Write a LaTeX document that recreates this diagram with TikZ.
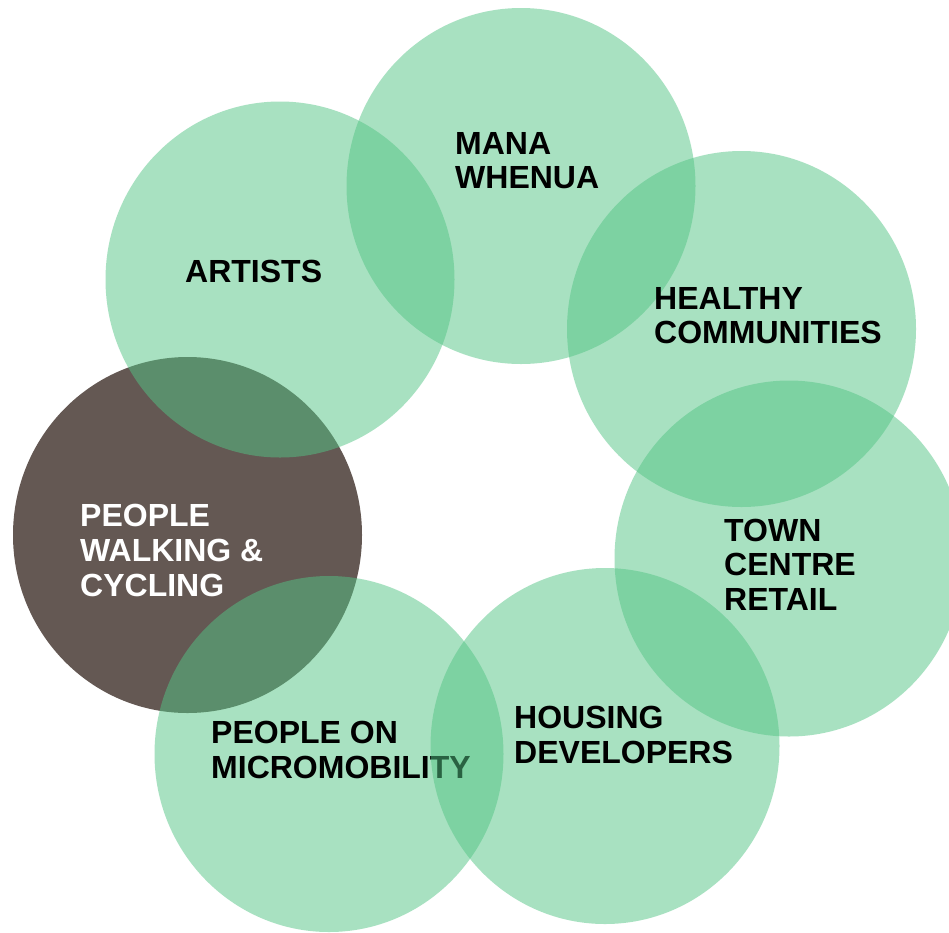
\documentclass[tikz,border=0pt]{standalone}
\usepackage{fontspec}
\setmainfont{Liberation Sans}
\definecolor{bubble}{RGB}{83,197,133}
\definecolor{focus}{RGB}{100,88,83}
\tikzset{
  x=1pt,y=-1pt,
  bubble/.style={fill=bubble,fill opacity=0.5,draw=none},
  focusbubble/.style={fill=focus,draw=none},
  lbl/.style={anchor=west,align=left,font=\fontsize{32pt}{34.8pt}\selectfont\bfseries,inner sep=0pt,text=black,text opacity=1},
}
\begin{document}
\begin{tikzpicture}
\useasboundingbox (0,0) rectangle (949,932);
\clip (0,0) rectangle (949,932);
\fill[white] (0,0) rectangle (949,932);
\fill[focusbubble] (187.5,535) ellipse [x radius=174.5,y radius=178];
\fill[bubble] (329,754) ellipse [x radius=174.5,y radius=178];
\node[lbl] (micro) at (211,749.7) {PEOPLE ON\\MICROMOBILITY};
\fill[bubble] (605,746) ellipse [x radius=174.5,y radius=178];
\fill[bubble] (789,558.5) ellipse [x radius=174.5,y radius=178];
\fill[bubble] (741.5,329) ellipse [x radius=174.5,y radius=178];
\fill[bubble] (521,186) ellipse [x radius=174.5,y radius=178];
\fill[bubble] (280,279.5) ellipse [x radius=174.5,y radius=178];
\node[lbl,text=white] (walk) at (80,550.3) {PEOPLE\\WALKING \&\\CYCLING};
\node[lbl] (housing) at (514,734.7) {HOUSING\\DEVELOPERS};
\node[lbl] (town) at (724,564.7) {TOWN\\CENTRE\\RETAIL};
\node[lbl] (healthy) at (654,315.7) {HEALTHY\\COMMUNITIES};
\node[lbl] (mana) at (455,160.7) {MANA\\WHENUA};
\node[lbl] (artists) at (185,271.3) {ARTISTS};
\end{tikzpicture}
\end{document}
